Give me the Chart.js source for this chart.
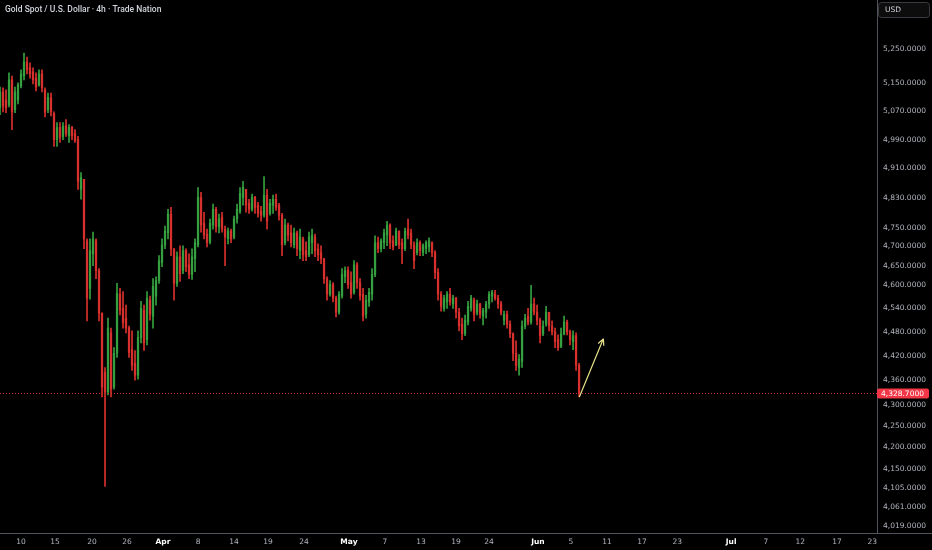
<!DOCTYPE html>
<html>
<head>
<meta charset="utf-8">
<title>Gold Spot / U.S. Dollar · 4h</title>
<script src="https://cdn.jsdelivr.net/npm/chart.js@4.4.1/dist/chart.umd.min.js"></script>
<style>
  html, body { margin: 0; padding: 0; background: #000; }
  #wrap { width: 932px; height: 550px; position: relative; }
</style>
</head>
<body>
<div id="wrap"><canvas id="grafica"></canvas></div>
<script>
// candles (one every ~8h)
const opens = [
  5080, 5125, 5102, 5088, 5160, 5074, 5102, 5142, 5171, 5212,
  5195, 5183, 5165, 5145, 5177, 5131, 5074, 5108, 5063, 4990,
  5024, 4999, 5029, 5001, 5024, 5007, 4990, 4853, 4880, 4715,
  4591, 4681, 4715, 4637, 4528, 4380, 4332, 4478, 4344, 4427,
  4576, 4540, 4515, 4490, 4436, 4402, 4373, 4466, 4535, 4461,
  4561, 4520, 4571, 4611, 4658, 4704, 4736, 4786, 4694, 4604,
  4673, 4637, 4689, 4652, 4627, 4668, 4704, 4831, 4762, 4733,
  4712, 4757, 4799, 4752, 4778, 4746, 4720, 4741, 4725, 4773,
  4794, 4831, 4853, 4815, 4799, 4831, 4810, 4794, 4783, 4837,
  4788, 4810, 4826, 4810, 4783, 4710, 4757, 4736, 4704, 4736,
  4689, 4720, 4689, 4678, 4710, 4725, 4694, 4684, 4668, 4616,
  4576, 4601, 4566, 4530, 4571, 4621, 4637, 4606, 4581, 4652,
  4606, 4576, 4525, 4556, 4576, 4627, 4710, 4694, 4710, 4730,
  4757, 4715, 4704, 4741, 4710, 4694, 4746, 4736, 4704, 4684,
  4710, 4684, 4694, 4699, 4710, 4684, 4632, 4576, 4540, 4556,
  4576, 4551, 4566, 4530, 4500, 4476, 4505, 4540, 4561, 4530,
  4551, 4520, 4530, 4551, 4571, 4576, 4566, 4551, 4510, 4525,
  4500, 4476, 4427, 4392, 4407, 4495, 4520, 4505, 4551, 4530,
  4510, 4476, 4500, 4530, 4495, 4481, 4461, 4444, 4476, 4505,
  4481, 4456, 4471, 4397
];
const highs = [
  5139, 5137, 5131, 5180, 5171, 5139, 5151, 5189, 5238, 5226,
  5209, 5195, 5180, 5189, 5189, 5137, 5122, 5122, 5068, 5038,
  5038, 5038, 5046, 5032, 5027, 5018, 4999, 4899, 4880, 4720,
  4720, 4738, 4720, 4642, 4528, 4392, 4515, 4490, 4441, 4604,
  4591, 4583, 4548, 4495, 4483, 4434, 4483, 4558, 4548, 4583,
  4571, 4616, 4621, 4676, 4720, 4754, 4799, 4804, 4694, 4686,
  4702, 4702, 4694, 4681, 4694, 4720, 4858, 4845, 4791, 4746,
  4773, 4813, 4804, 4786, 4791, 4754, 4749, 4746, 4781, 4813,
  4858, 4875, 4853, 4826, 4840, 4834, 4818, 4807, 4888, 4853,
  4826, 4837, 4840, 4815, 4788, 4773, 4762, 4757, 4749, 4741,
  4746, 4725, 4712, 4738, 4746, 4733, 4707, 4702, 4668, 4621,
  4611, 4606, 4571, 4583, 4642, 4647, 4647, 4634, 4663, 4658,
  4616, 4591, 4573, 4591, 4642, 4728, 4725, 4720, 4746, 4767,
  4760, 4728, 4749, 4741, 4720, 4749, 4773, 4746, 4712, 4720,
  4715, 4707, 4715, 4723, 4712, 4689, 4642, 4583, 4573, 4583,
  4591, 4573, 4568, 4540, 4515, 4523, 4558, 4573, 4566, 4561,
  4553, 4540, 4558, 4583, 4586, 4586, 4573, 4558, 4533, 4533,
  4508, 4478, 4458, 4424, 4508, 4525, 4540, 4599, 4566, 4548,
  4515, 4508, 4545, 4530, 4508, 4490, 4473, 4490, 4520, 4510,
  4485, 4483, 4478, 4402
];
const lows = [
  5060, 5068, 5066, 5082, 5018, 5066, 5091, 5137, 5160, 5177,
  5165, 5148, 5128, 5142, 5125, 5054, 5066, 5057, 4971, 4971,
  4982, 4990, 4999, 4982, 4990, 4982, 4853, 4826, 4694, 4508,
  4563, 4650, 4616, 4508, 4320, 4109, 4325, 4320, 4339, 4417,
  4523, 4490, 4478, 4417, 4385, 4361, 4363, 4453, 4434, 4448,
  4510, 4490, 4548, 4604, 4647, 4694, 4720, 4676, 4561, 4596,
  4609, 4629, 4634, 4616, 4614, 4634, 4699, 4738, 4720, 4699,
  4707, 4746, 4738, 4736, 4738, 4650, 4707, 4710, 4720, 4762,
  4788, 4810, 4791, 4788, 4794, 4788, 4778, 4767, 4778, 4746,
  4783, 4788, 4796, 4770, 4676, 4704, 4715, 4699, 4696, 4676,
  4668, 4663, 4663, 4673, 4681, 4673, 4663, 4655, 4604, 4561,
  4571, 4556, 4518, 4525, 4566, 4606, 4591, 4566, 4576, 4591,
  4561, 4508, 4515, 4545, 4561, 4621, 4684, 4686, 4694, 4702,
  4694, 4691, 4702, 4694, 4655, 4689, 4720, 4694, 4642, 4678,
  4676, 4676, 4681, 4686, 4673, 4616, 4561, 4533, 4533, 4540,
  4548, 4540, 4515, 4483, 4461, 4471, 4498, 4533, 4508, 4523,
  4515, 4498, 4515, 4540, 4556, 4561, 4540, 4523, 4498, 4490,
  4466, 4409, 4385, 4373, 4392, 4488, 4498, 4500, 4523, 4498,
  4453, 4471, 4495, 4483, 4473, 4441, 4434, 4441, 4473, 4473,
  4448, 4436, 4385, 4320
];
const closes = [
  5125, 5085, 5080, 5160, 5068, 5125, 5145, 5177, 5212, 5189,
  5177, 5160, 5139, 5177, 5137, 5068, 5110, 5068, 4990, 5024,
  4996, 5027, 5007, 5024, 5001, 4987, 4875, 4885, 4720, 4566,
  4689, 4720, 4637, 4528, 4344, 4332, 4490, 4339, 4427, 4578,
  4535, 4503, 4490, 4429, 4397, 4373, 4466, 4540, 4453, 4566,
  4525, 4596, 4611, 4663, 4704, 4741, 4786, 4694, 4604, 4673,
  4629, 4689, 4647, 4627, 4673, 4710, 4831, 4757, 4730, 4710,
  4762, 4799, 4752, 4773, 4746, 4725, 4741, 4720, 4773, 4799,
  4842, 4858, 4810, 4799, 4831, 4804, 4788, 4783, 4837, 4767,
  4815, 4826, 4804, 4783, 4704, 4757, 4730, 4710, 4736, 4694,
  4725, 4678, 4673, 4725, 4730, 4689, 4678, 4668, 4616, 4576,
  4601, 4566, 4530, 4576, 4627, 4637, 4601, 4576, 4652, 4606,
  4571, 4520, 4561, 4581, 4627, 4710, 4694, 4715, 4736, 4757,
  4710, 4699, 4741, 4704, 4694, 4741, 4730, 4704, 4663, 4710,
  4689, 4702, 4710, 4715, 4684, 4632, 4576, 4545, 4566, 4576,
  4556, 4566, 4530, 4495, 4476, 4510, 4545, 4566, 4525, 4551,
  4525, 4535, 4551, 4576, 4581, 4566, 4551, 4530, 4525, 4500,
  4476, 4427, 4397, 4412, 4495, 4515, 4505, 4551, 4530, 4510,
  4471, 4495, 4530, 4495, 4481, 4456, 4441, 4476, 4505, 4481,
  4461, 4471, 4397, 4328.7
];

// time axis: label text and the candle slot it sits on
const xTickLabels = ['10', '15', '20', '26', 'Apr', '8', '14', '19', '24', 'May', '7', '13',
                     '19', '24', 'Jun', '5', '11', '17', '23', 'Jul', '7', '12', '17', '23'];
const xTickBars = [7, 18.3, 30.7, 42.3, 54.3, 66, 78, 89.3, 101.3, 116.3, 128.3, 140.3,
                   152, 163, 179.3, 190.3, 202.3, 214, 225.7, 243.7, 255.3, 266.7, 279, 290.7];
const xLastSlot = 292.3;

// price axis (log)
const yTicks = [5250, 5150, 5070, 4990, 4910, 4830, 4750, 4700, 4650, 4600, 4540,
                4480, 4420, 4360, 4300, 4250, 4200, 4150, 4105, 4061, 4019];
const yMin = 4003;
const yMax = 5396;
const lastPrice = 4328.7;

// drawn arrow: [slot, price]
const arrowFrom = [193.1, 4320];
const arrowTo = [201.1, 4463];

const up = '#35a03f';
const down = '#d8302c';
const candleColor = c => closes[c.dataIndex] >= opens[c.dataIndex] ? up : down;
const isMonth = i => /[A-Za-z]/.test(xTickLabels[i] || '');
const fmt = v => v.toLocaleString('en-US', { minimumFractionDigits: 4, maximumFractionDigits: 4 });
const axisFont = 'DejaVu Sans';

const overlay = {
  id: 'overlay',
  afterDatasetsDraw(chart) {
    const { ctx, chartArea: a, scales: { x, y } } = chart;
    const py = Math.round(y.getPixelForValue(lastPrice)) + 0.5;
    ctx.save();
    // last price dotted line
    ctx.strokeStyle = '#d23232';
    ctx.lineWidth = 1;
    ctx.setLineDash([1, 2]);
    ctx.beginPath();
    ctx.moveTo(a.left, py);
    ctx.lineTo(a.right, py);
    ctx.stroke();
    ctx.setLineDash([]);
    // arrow
    const x0 = x.getPixelForValue(arrowFrom[0]), y0 = y.getPixelForValue(arrowFrom[1]);
    const x1 = x.getPixelForValue(arrowTo[0]), y1 = y.getPixelForValue(arrowTo[1]);
    const ang = Math.atan2(y1 - y0, x1 - x0);
    ctx.strokeStyle = '#e6e08a';
    ctx.lineWidth = 1.2;
    ctx.beginPath();
    ctx.moveTo(x0, y0);
    ctx.lineTo(x1, y1);
    [-1, 1].forEach(s => {
      ctx.moveTo(x1, y1);
      ctx.lineTo(x1 - 7 * Math.cos(ang + s * 0.45), y1 - 7 * Math.sin(ang + s * 0.45));
    });
    ctx.stroke();
    ctx.restore();
  },
  afterDraw(chart) {
    const { ctx, chartArea: a, scales: { y }, width } = chart;
    ctx.save();
    // bottom axis line across the whole width
    ctx.strokeStyle = '#50535e';
    ctx.lineWidth = 1;
    ctx.beginPath();
    ctx.moveTo(0, a.bottom + 0.5);
    ctx.lineTo(width, a.bottom + 0.5);
    ctx.stroke();

    // title
    ctx.fillStyle = '#d1d4dc';
    ctx.font = '500 8.5px Roboto';
    ctx.textBaseline = 'middle';
    ctx.textAlign = 'left';
    ctx.fillText('Gold Spot / U.S. Dollar · 4h · Trade Nation', 5, 9.5);

    // currency box
    ctx.fillStyle = '#0d0d0d';
    ctx.strokeStyle = '#3a3b40';
    ctx.beginPath();
    ctx.roundRect(a.right + 1.5, 2.5, 51, 15, 3);
    ctx.fill();
    ctx.stroke();
    ctx.fillStyle = '#d1d4dc';
    ctx.font = '7.5px ' + axisFont;
    ctx.fillText('USD', a.right + 8, 10.5);

    // last price tag
    const py = y.getPixelForValue(lastPrice);
    ctx.fillStyle = '#f23645';
    ctx.beginPath();
    ctx.roundRect(a.right, py - 5, 52, 10, 2);
    ctx.fill();
    ctx.fillStyle = '#ffffff';
    ctx.fillText(fmt(lastPrice), a.right + 4, py + 0.5);
    ctx.restore();
  }
};

new Chart(document.getElementById('grafica'), {
  type: 'bar',
  data: {
    datasets: [
      {
        label: 'body',
        data: opens.map((o, i) => ({ x: i, y: [o, closes[i]] })),
        backgroundColor: candleColor,
        barThickness: 1.6,
        grouped: false,
        order: 0
      },
      {
        label: 'wick',
        data: lows.map((l, i) => ({ x: i, y: [l, highs[i]] })),
        backgroundColor: candleColor,
        barThickness: 1,
        grouped: false,
        order: 1
      }
    ]
  },
  options: {
    responsive: true,
    maintainAspectRatio: false,
    animation: false,
    layout: { padding: 0 },
    plugins: { legend: { display: false }, tooltip: { enabled: false } },
    scales: {
      x: {
        type: 'linear',
        min: 0,
        max: xLastSlot,
        offset: false,
        grid: { display: false, drawTicks: false },
        border: { display: false },
        afterBuildTicks: s => { s.ticks = xTickBars.map(v => ({ value: v })); },
        afterFit: s => { s.height = 17; s.paddingLeft = 0; s.paddingRight = 0; },
        ticks: {
          autoSkip: false,
          maxRotation: 0,
          minRotation: 0,
          padding: 5,
          callback: (v, i) => xTickLabels[i],
          color: c => isMonth(c.index) ? '#ffffff' : '#b2b5be',
          font: c => ({ family: axisFont, size: 7.5, weight: isMonth(c.index) ? 'bold' : 'normal' })
        }
      },
      y: {
        type: 'logarithmic',
        position: 'right',
        min: yMin,
        max: yMax,
        grid: { display: false, drawTicks: false },
        border: { display: true, color: '#50535e' },
        afterBuildTicks: s => { s.ticks = yTicks.map(v => ({ value: v })); },
        afterFit: s => { s.width = 55; s.paddingTop = 0; s.paddingBottom = 0; },
        ticks: {
          padding: 6,
          color: '#b2b5be',
          font: { family: axisFont, size: 7.5 },
          callback: v => fmt(v)
        }
      }
    }
  },
  plugins: [overlay]
});
</script>
</body>
</html>
